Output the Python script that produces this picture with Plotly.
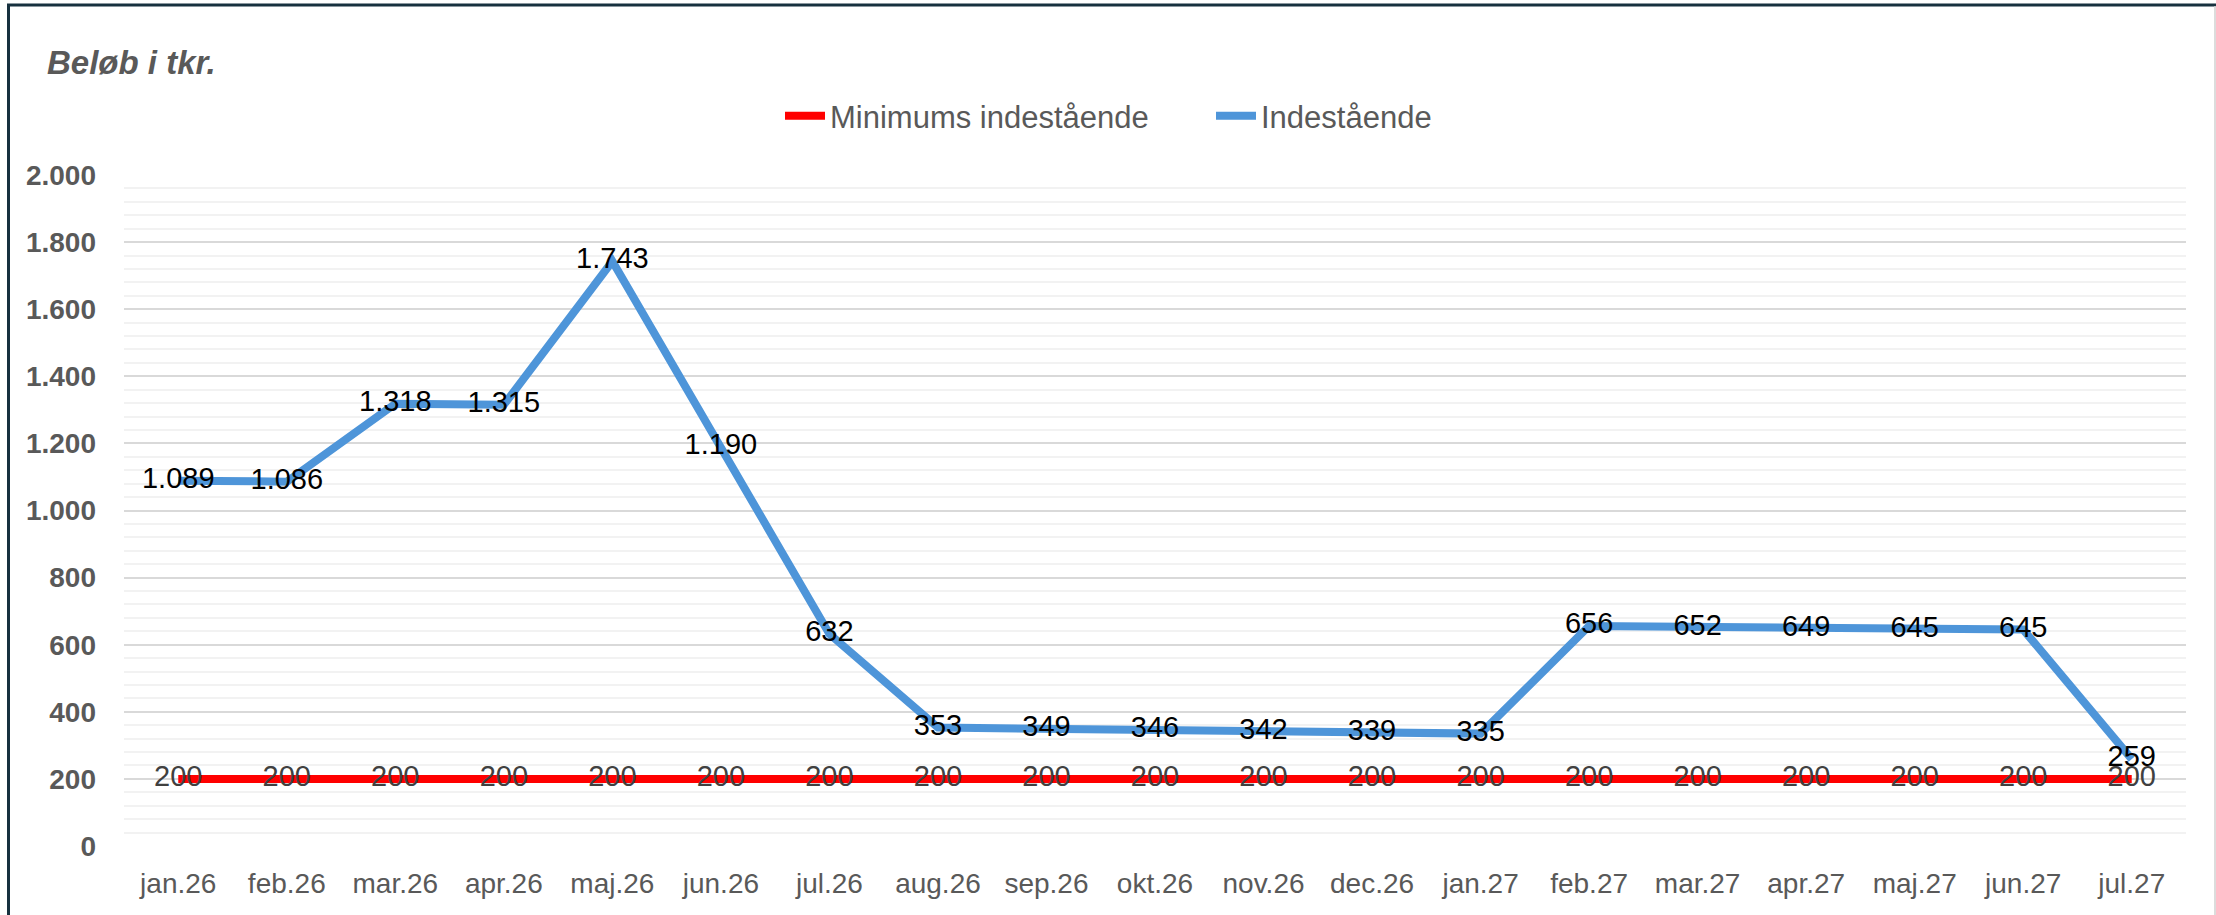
import plotly.graph_objects as go

categories = ["jan.26", "feb.26", "mar.26", "apr.26", "maj.26", "jun.26", "jul.26",
              "aug.26", "sep.26", "okt.26", "nov.26", "dec.26", "jan.27", "feb.27",
              "mar.27", "apr.27", "maj.27", "jun.27", "jul.27"]
minimum = [200] * 19
indestaaende = [1089, 1086, 1318, 1315, 1743, 1190, 632, 353, 349, 346, 342, 339,
                335, 656, 652, 649, 645, 645, 259]
y_ticks = [0, 200, 400, 600, 800, 1000, 1200, 1400, 1600, 1800, 2000]

W, H = 2216, 915
L, R, T, B = 124, 30, 175, 69
pw, ph = W - L - R, H - T - B

def px(x):
    return (x - L) / pw

def py(y):
    return (H - B - y) / ph

fig = go.Figure()
fig.add_trace(go.Scatter(
    x=categories, y=minimum, name="Minimums indestående", mode="lines+text",
    line=dict(color="#FF0000", width=8),
    text=minimum, texttemplate="%{y:,.0f}", textposition="middle center",
    textfont=dict(family="Liberation Sans, Arial", size=29, color="#404040"),
    cliponaxis=False, hoverinfo="skip"))
fig.add_trace(go.Scatter(
    x=categories, y=indestaaende, name="Indestående", mode="lines+text",
    line=dict(color="#4E95D9", width=8),
    text=indestaaende, texttemplate="%{y:,.0f}", textposition="middle center",
    textfont=dict(family="Liberation Sans, Arial", size=29, color="#000000"),
    cliponaxis=False, hoverinfo="skip"))

fig.update_layout(
    width=W, height=H,
    margin=dict(l=L, r=R, t=T, b=B, pad=0),
    paper_bgcolor="white", plot_bgcolor="white",
    separators=",.",
    showlegend=True,
    legend=dict(orientation="h", x=px(780), xanchor="left", y=py(116), yanchor="middle",
                font=dict(family="Liberation Sans, Arial", size=31, color="#595959"),
                itemwidth=40, entrywidth=376, bgcolor="rgba(0,0,0,0)"),
    xaxis=dict(type="category", range=[-0.5, 18.5], showgrid=False, zeroline=False,
               showline=False, ticks="", ticklabelstandoff=18,
               tickfont=dict(family="Liberation Sans, Arial", size=28, color="#595959")),
    yaxis=dict(range=[0, 2000], tickvals=y_ticks, tickformat=",.0f",
               showgrid=True, gridcolor="#D9D9D9", gridwidth=2,
               zeroline=False, showline=False, ticks="", ticklabelstandoff=27,
               minor=dict(dtick=40, showgrid=True, gridcolor="#F2F2F2", gridwidth=2),
               tickfont=dict(family="Liberation Sans, Arial", size=28, color="#595959",
                             weight="bold")),
    annotations=[dict(text="<b><i>Beløb i tkr.</i></b>", xref="paper", yref="paper",
                      x=px(45), y=py(62), xanchor="left", yanchor="middle",
                      showarrow=False,
                      font=dict(family="Liberation Sans, Arial", size=33, color="#595959"))],
    shapes=[
        dict(type="line", xref="paper", yref="paper", x0=px(8.5), x1=px(8.5), y0=py(4), y1=py(930),
             line=dict(color="#17313F", width=3)),
        dict(type="line", xref="paper", yref="paper", x0=px(7), x1=px(2216), y0=py(5), y1=py(5),
             line=dict(color="#17313F", width=3)),
        dict(type="line", xref="paper", yref="paper", x0=px(2215), x1=px(2215), y0=py(6), y1=py(930),
             line=dict(color="#D0D0D0", width=1.5)),
    ],
)

fig.write_html("out.html", config={"displayModeBar": False},
               post_script="document.body.style.margin='0';")
